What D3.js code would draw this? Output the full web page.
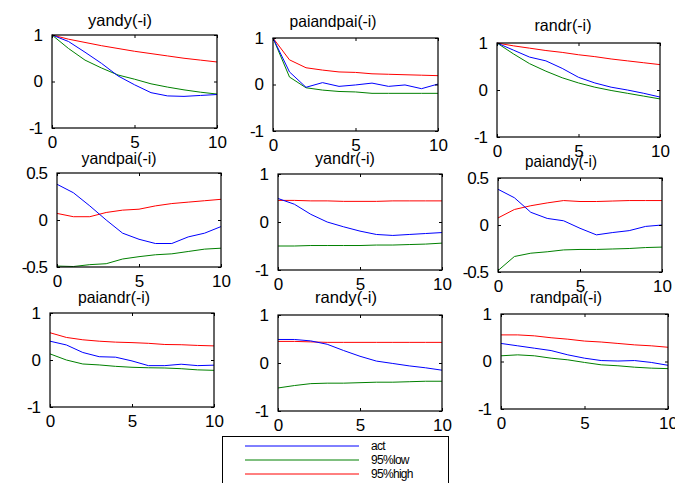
<!DOCTYPE html>
<html>
<head>
<meta charset="utf-8">
<script src="https://cdn.jsdelivr.net/npm/d3@7"></script>
<style>
  html, body { margin: 0; padding: 0; background: #fff; }
  svg { display: block; }
  text { font-family: "Liberation Sans", Arial, sans-serif; fill: #000; }
</style>
</head>
<body>
<svg id="chart" width="675" height="483"></svg>
<script>
// ---------------- DATA ----------------
const steps = [0, 1, 2, 3, 4, 5, 6, 7, 8, 9, 10];
const titles = ["yandy(-i)", "paiandpai(-i)", "randr(-i)", "yandpai(-i)", "yandr(-i)", "paiandy(-i)", "paiandr(-i)", "randy(-i)", "randpai(-i)"];
const legendLabels = ["act", "95%low", "95%high"];
const xTicks = [0, 5, 10];
const yTicksWide = [-1, 0, 1];
const yTicksNarrow = [-0.5, 0, 0.5];

const yy_act  = [1, 0.86, 0.63, 0.39, 0.12, -0.07, -0.24, -0.31, -0.32, -0.30, -0.28];
const yy_low  = [1, 0.71, 0.46, 0.29, 0.14, 0.05, -0.05, -0.12, -0.18, -0.23, -0.27];
const yy_high = [1, 0.91, 0.84, 0.77, 0.71, 0.65, 0.60, 0.55, 0.50, 0.46, 0.42];

const pp_act  = [1, 0.27, -0.06, 0.04, -0.04, -0.01, 0.03, -0.04, -0.01, -0.09, 0.01];
const pp_low  = [1, 0.16, -0.07, -0.12, -0.15, -0.16, -0.19, -0.19, -0.19, -0.19, -0.19];
const pp_high = [1, 0.53, 0.36, 0.31, 0.27, 0.26, 0.23, 0.22, 0.21, 0.20, 0.19];

const rr_act  = [1, 0.85, 0.70, 0.62, 0.46, 0.27, 0.15, 0.06, 0.00, -0.07, -0.15];
const rr_low  = [1, 0.77, 0.56, 0.40, 0.26, 0.15, 0.06, -0.01, -0.07, -0.13, -0.19];
const rr_high = [1, 0.94, 0.89, 0.84, 0.80, 0.75, 0.71, 0.66, 0.62, 0.58, 0.54];

const yp_act  = [0.38, 0.29, 0.15, 0.00, -0.14, -0.205, -0.25, -0.25, -0.18, -0.14, -0.07];
const yp_low  = [-0.49, -0.495, -0.475, -0.465, -0.415, -0.39, -0.37, -0.36, -0.335, -0.31, -0.30];
const yp_high = [0.07, 0.035, 0.035, 0.08, 0.105, 0.115, 0.15, 0.175, 0.19, 0.205, 0.22];

const yr_act  = [0.49, 0.37, 0.16, 0.00, -0.10, -0.19, -0.26, -0.28, -0.26, -0.24, -0.22];
const yr_low  = [-0.50, -0.50, -0.49, -0.49, -0.49, -0.49, -0.48, -0.48, -0.47, -0.46, -0.44];
const yr_high = [0.45, 0.45, 0.44, 0.44, 0.43, 0.43, 0.43, 0.44, 0.44, 0.44, 0.44];

const py_act  = [0.38, 0.29, 0.135, 0.07, 0.045, -0.035, -0.105, -0.08, -0.06, -0.015, 0.0];
const py_low  = [-0.485, -0.335, -0.30, -0.285, -0.265, -0.26, -0.26, -0.255, -0.25, -0.24, -0.235];
const py_high = [0.075, 0.165, 0.205, 0.235, 0.26, 0.25, 0.25, 0.255, 0.26, 0.26, 0.26];

const pr_act  = [0.40, 0.32, 0.16, 0.07, 0.06, -0.02, -0.12, -0.12, -0.09, -0.12, -0.11];
const pr_low  = [0.13, 0.00, -0.085, -0.105, -0.135, -0.155, -0.165, -0.17, -0.185, -0.21, -0.22];
const pr_high = [0.58, 0.48, 0.43, 0.40, 0.38, 0.37, 0.355, 0.33, 0.325, 0.31, 0.30];

const ry_act  = [0.49, 0.49, 0.46, 0.39, 0.26, 0.14, 0.04, -0.01, -0.06, -0.10, -0.15];
const ry_low  = [-0.52, -0.47, -0.43, -0.42, -0.42, -0.41, -0.40, -0.40, -0.39, -0.38, -0.38];
const ry_high = [0.45, 0.45, 0.44, 0.43, 0.43, 0.43, 0.43, 0.43, 0.43, 0.43, 0.43];

const rp_act  = [0.38, 0.33, 0.28, 0.23, 0.14, 0.07, 0.02, 0.01, 0.02, -0.02, -0.08];
const rp_low  = [0.12, 0.14, 0.12, 0.07, 0.035, -0.02, -0.07, -0.09, -0.12, -0.14, -0.15];
const rp_high = [0.56, 0.56, 0.54, 0.50, 0.47, 0.43, 0.41, 0.38, 0.35, 0.33, 0.30];

// ---------------- LAYOUT ----------------
const colors = { act: "#0000ff", low: "#008000", high: "#ff0000" };

const panels = [
  { title: titles[0], act: yy_act, low: yy_low, high: yy_high, yt: yTicksWide,   box: [52, 35, 217, 128],  t: [120, 26, 64] },
  { title: titles[1], act: pp_act, low: pp_low, high: pp_high, yt: yTicksWide,   box: [273, 38, 438, 131], t: [333, 27, 87] },
  { title: titles[2], act: rr_act, low: rr_low, high: rr_high, yt: yTicksWide,   box: [497, 43, 660, 137], t: [563, 31, 57] },
  { title: titles[3], act: yp_act, low: yp_low, high: yp_high, yt: yTicksNarrow, box: [57, 173, 221, 267], t: [119, 164, 75] },
  { title: titles[4], act: yr_act, low: yr_low, high: yr_high, yt: yTicksWide,   box: [278, 174, 442, 270], t: [345, 164, 60] },
  { title: titles[5], act: py_act, low: py_low, high: py_high, yt: yTicksNarrow, box: [498, 178, 662, 272], t: [561, 167, 72] },
  { title: titles[6], act: pr_act, low: pr_low, high: pr_high, yt: yTicksWide,   box: [50, 313, 214, 407], t: [114, 303, 72] },
  { title: titles[7], act: ry_act, low: ry_low, high: ry_high, yt: yTicksWide,   box: [278, 315, 442, 411], t: [346, 303, 62] },
  { title: titles[8], act: rp_act, low: rp_low, high: rp_high, yt: yTicksWide,   box: [501, 314, 668, 409], t: [566, 303, 72] }
];

const svg = d3.select("#chart");
svg.append("rect").attr("width", 675).attr("height", 483).attr("fill", "#fff");

panels.forEach(p => {
  const [x0, y0, x1, y1] = p.box;
  const ydom = d3.extent(p.yt);
  const x = d3.scaleLinear().domain([0, 10]).range([x0, x1]);
  const y = d3.scaleLinear().domain(ydom).range([y1, y0]);
  const g = svg.append("g");

  g.append("rect").attr("x", x0).attr("y", y0).attr("width", x1 - x0).attr("height", y1 - y0)
    .attr("fill", "#fff");

  const line = d3.line().x((d, i) => x(steps[i])).y(d => y(d));
  [["high", p.high], ["low", p.low], ["act", p.act]].forEach(([k, arr]) => {
    g.append("path").datum(arr).attr("d", line).attr("fill", "none")
      .attr("stroke", colors[k]).attr("stroke-width", 1);
  });

  // axes with inward ticks
  const tl = 3;
  g.append("g").attr("transform", `translate(0,${y1})`)
    .call(d3.axisBottom(x).tickValues(xTicks).tickSizeInner(-tl).tickSizeOuter(0).tickPadding(8).tickFormat(d3.format("d")))
    .call(a => { a.select(".domain").remove(); a.selectAll("text").attr("font-size", 17).attr("font-family", "Liberation Sans, Arial, sans-serif").attr("dy", "0.71em").attr("y", 8); });
  g.append("g").attr("transform", `translate(0,${y0})`)
    .call(d3.axisTop(x).tickValues(xTicks).tickSizeInner(-tl).tickSizeOuter(0).tickFormat(""))
    .call(a => a.select(".domain").remove());
  g.append("g").attr("transform", `translate(${x0},0)`)
    .call(d3.axisLeft(y).tickValues(p.yt).tickSizeInner(-tl).tickSizeOuter(0).tickPadding(10).tickFormat(d => String(d)))
    .call(a => { a.select(".domain").remove(); a.selectAll("text").attr("font-size", 17).attr("font-family", "Liberation Sans, Arial, sans-serif").attr("letter-spacing", "-1"); });
  g.append("g").attr("transform", `translate(${x1},0)`)
    .call(d3.axisRight(y).tickValues(p.yt).tickSizeInner(-tl).tickSizeOuter(0).tickFormat(""))
    .call(a => a.select(".domain").remove());

  g.append("rect").attr("x", x0).attr("y", y0).attr("width", x1 - x0).attr("height", y1 - y0)
    .attr("fill", "none").attr("stroke", "#000").attr("stroke-width", 1.2);

  g.append("text").attr("x", p.t[0]).attr("y", p.t[1]).attr("text-anchor", "middle")
    .attr("font-size", 16.5).attr("textLength", p.t[2]).attr("lengthAdjust", "spacingAndGlyphs")
    .text(p.title);
});

// legend
const lg = svg.append("g");
lg.append("rect").attr("x", 222.5).attr("y", 436.5).attr("width", 226).attr("height", 60)
  .attr("fill", "#fff").attr("stroke", "#000").attr("stroke-width", 1);
const legendKeys = ["act", "low", "high"];
const ly = d3.scalePoint().domain(legendLabels).range([446, 474]);
legendLabels.forEach((lab, i) => {
  lg.append("line").attr("x1", 245).attr("x2", 359).attr("y1", ly(lab)).attr("y2", ly(lab))
    .attr("stroke", colors[legendKeys[i]]).attr("stroke-width", 1);
  lg.append("text").attr("x", 371).attr("y", ly(lab)).attr("dy", "0.35em")
    .attr("font-size", 12).attr("letter-spacing", "-0.7").text(lab);
});
</script>
</body>
</html>
